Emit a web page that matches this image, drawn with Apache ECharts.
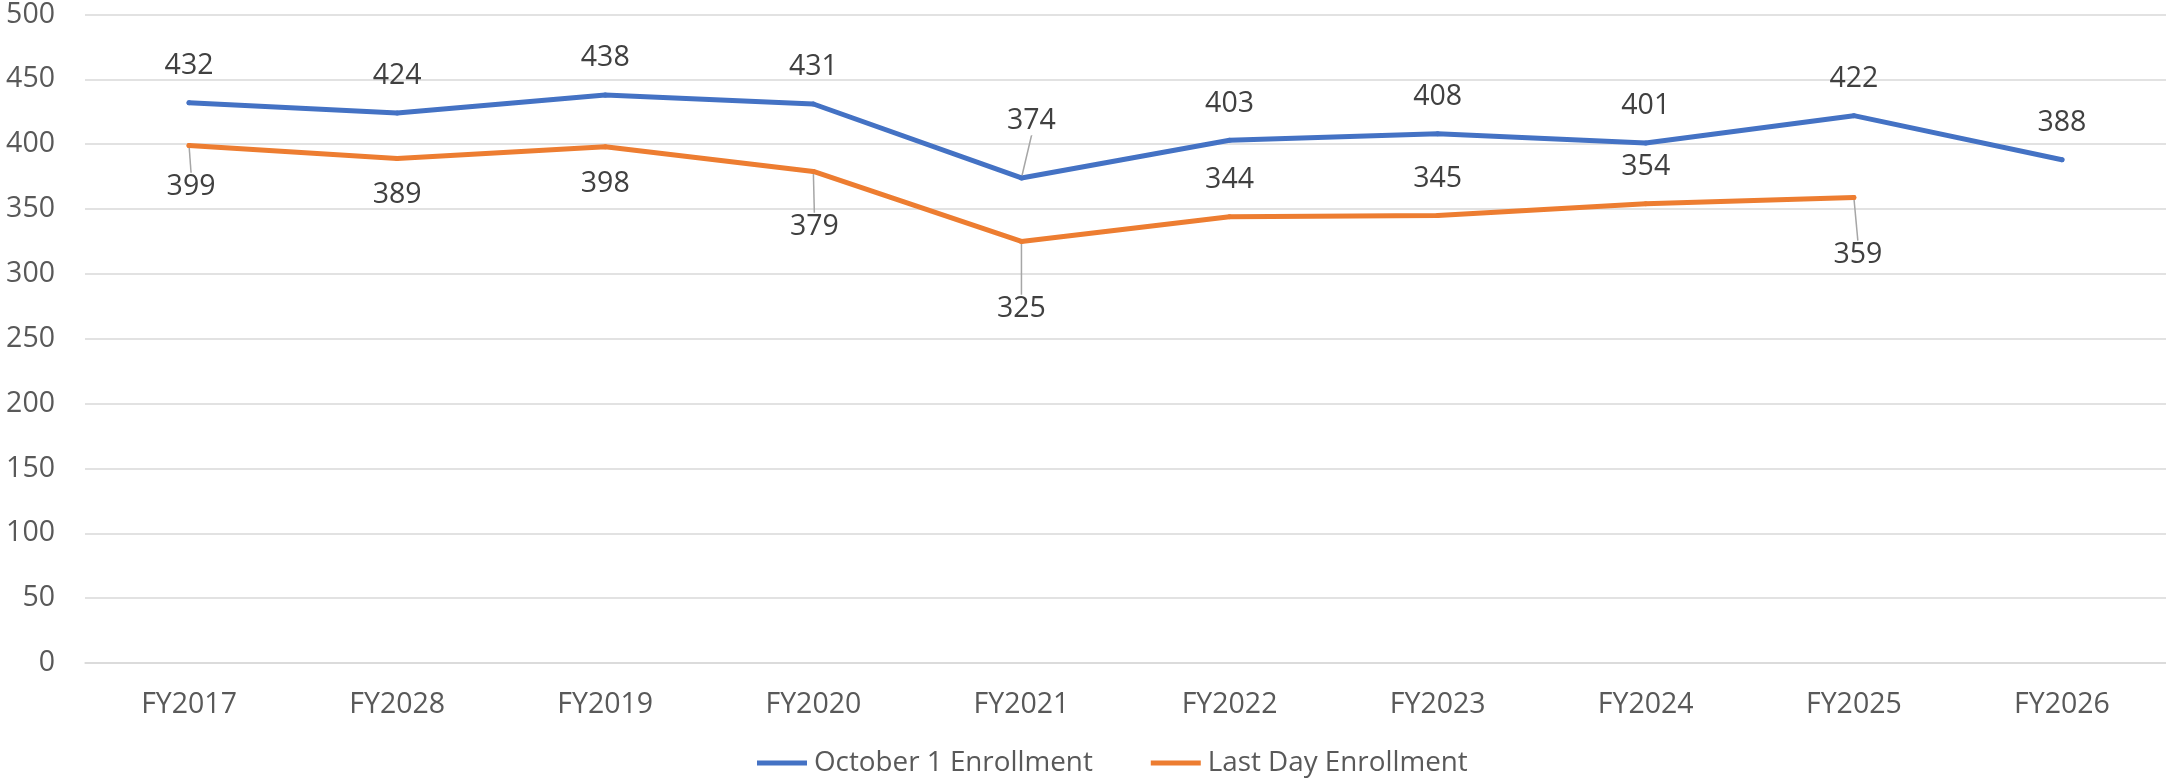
<!DOCTYPE html>
<html>
<head>
<meta charset="utf-8" />
<title>Enrollment</title>
<script src="https://cdn.jsdelivr.net/npm/echarts@6/dist/echarts.min.js"></script>
<style>
  html,
  body {
    margin: 0;
    padding: 0;
    background: #fff;
  }
  #chart {
    width: 2166px;
    height: 779px;
  }
</style>
</head>
<body>
<div id="chart"></div>
<script>
const years = ["FY2017", "FY2028", "FY2019", "FY2020", "FY2021", "FY2022", "FY2023", "FY2024", "FY2025", "FY2026"];
const october1 = [432, 424, 438, 431, 374, 403, 408, 401, 422, 388];
const lastDay = [399, 389, 398, 379, 325, 344, 345, 354, 359];
const yTicks = [0, 50, 100, 150, 200, 250, 300, 350, 400, 450, 500];

// labels Excel pulled away from their point (drawn with a leader line)
const movedBlue = { 4: [10, -20] };
const movedOrange = { 0: [2, 5], 3: [1, 19], 4: [0, 31], 8: [4, 21] };
// orange labels that sit above the line
const orangeAbove = [5, 6, 7];

const font = "'Open Sans', sans-serif";
const fs = 28.5;

const myChart = echarts.init(document.getElementById("chart"));

const labelBase = {
  show: true,
  fontFamily: font,
  fontSize: fs,
  lineHeight: fs,
  color: "#404040",
  distance: 20,
};

const leader = {
  show: true,
  lineStyle: { color: "#a6a6a6", width: 1.5 },
};

const mover = (moved) => (params) => {
  const m = moved[params.dataIndex];
  if (!m) return {};
  return { dx: m[0], dy: m[1] };
};

const toItems = (values, moved, above) =>
  values.map((v, i) => {
    const item = { value: v };
    if (moved[i]) item.labelLine = leader;
    if (above && above.includes(i)) item.label = { position: "top" };
    return item;
  });

const option = {
  animation: false,
  grid: {
    left: 85,
    right: 0,
    top: 14,
    bottom: 116,
    containLabel: false,
  },
  legend: {
    top: 744,
    left: 752,
    icon: "rect",
    itemWidth: 50,
    itemHeight: 5,
    itemGap: 58,
    textStyle: {
      fontFamily: font,
      fontSize: 27.8,
      color: "#595959",
      padding: [0, 0, 0, 2],
    },
    data: ["October 1 Enrollment", "Last Day Enrollment"],
  },
  xAxis: {
    type: "category",
    data: years,
    boundaryGap: true,
    axisLine: { show: true, lineStyle: { color: "#d9d9d9", width: 1.5 } },
    axisTick: { show: false },
    axisLabel: {
      fontFamily: font,
      fontSize: fs,
      color: "#595959",
      margin: 27,
    },
  },
  yAxis: {
    type: "value",
    min: yTicks[0],
    max: yTicks[yTicks.length - 1],
    interval: yTicks[1] - yTicks[0],
    axisLine: { show: false },
    axisTick: { show: false },
    splitLine: { lineStyle: { color: "#d9d9d9", width: 1.5 } },
    axisLabel: {
      fontFamily: font,
      fontSize: fs,
      color: "#595959",
      margin: 30,
    },
  },
  series: [
    {
      name: "October 1 Enrollment",
      type: "line",
      data: toItems(october1, movedBlue),
      color: "#4472C4",
      symbol: "circle",
      symbolSize: 5,
      showSymbol: true,
      lineStyle: { width: 5, cap: "round", join: "round" },
      label: Object.assign({}, labelBase, { position: "top" }),
      labelLine: { show: false },
      labelLayout: mover(movedBlue),
    },
    {
      name: "Last Day Enrollment",
      type: "line",
      color: "#ED7D31",
      data: toItems(lastDay, movedOrange, orangeAbove),
      symbol: "circle",
      symbolSize: 5,
      showSymbol: true,
      lineStyle: { width: 5, cap: "round", join: "round" },
      label: Object.assign({}, labelBase, { position: "bottom" }),
      labelLine: { show: false },
      labelLayout: mover(movedOrange),
    },
  ],
};

myChart.setOption(option);
</script>
</body>
</html>
